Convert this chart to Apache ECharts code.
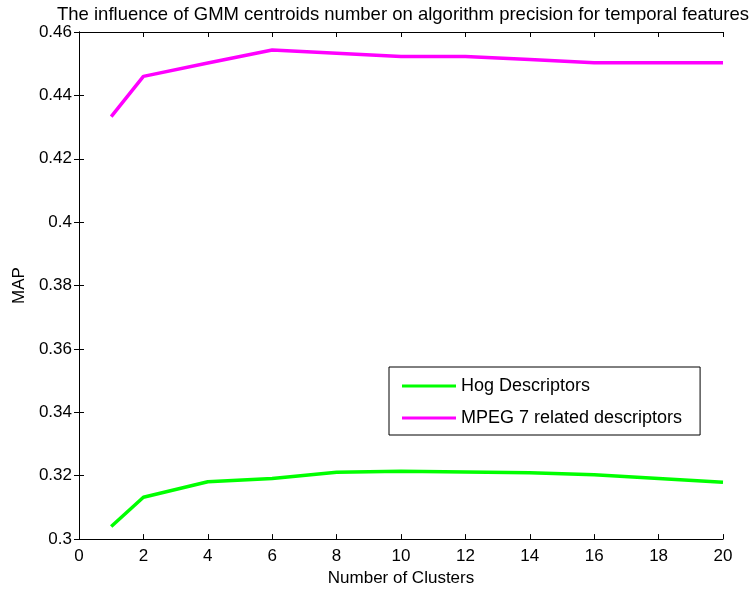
<!DOCTYPE html>
<html>
<head>
<meta charset="utf-8">
<script src="https://cdn.jsdelivr.net/npm/echarts@6/dist/echarts.min.js"></script>
<style>
  html, body { margin: 0; padding: 0; background: #fff; }
  #main { width: 750px; height: 592px; }
</style>
</head>
<body>
<div id="main"></div>
<script>
var clusters = [1, 2, 4, 6, 8, 10, 12, 14, 16, 18, 20];
var hogValues = [0.304, 0.3132, 0.3181, 0.3191, 0.3211, 0.3214, 0.3212, 0.3209, 0.3203, 0.3191, 0.3179];
var mpegValues = [0.4333, 0.446, 0.4502, 0.4543, 0.4533, 0.4523, 0.4523, 0.4513, 0.4503, 0.4503, 0.4503];

function pairs(xs, ys) {
  var out = [];
  for (var i = 0; i < xs.length; i++) out.push([xs[i], ys[i]]);
  return out;
}

var font = 'Liberation Sans, Arial, sans-serif';
var chart = echarts.init(document.getElementById('main'));

var tickStyle = { show: true, inside: true, length: 5, lineStyle: { color: '#000' } };
var lineAxis = { show: true, lineStyle: { color: '#000', width: 1 } };

var opt = {
  backgroundColor: '#fff',
  animation: false,
  title: {
    text: 'The influence of GMM centroids number on algorithm precision for temporal features',
    left: 398,
    textAlign: 'center',
    top: 0,
    textStyle: { fontFamily: font, fontSize: 18.5, fontWeight: 'normal', color: '#000' }
  },
  grid: { left: 79, right: 27, top: 32, bottom: 52 },
  legend: {
    orient: 'vertical',
    left: 389,
    top: 367,
    padding: [10, 18, 8, 13],
    itemGap: 14,
    itemWidth: 54,
    itemHeight: 3,
    icon: 'rect',
    backgroundColor: '#fff',
    borderColor: '#000',
    borderWidth: 1,
    textStyle: { fontFamily: font, fontSize: 18, color: '#000' },
    data: ['Hog Descriptors', 'MPEG 7 related descriptors']
  },
  xAxis: [{
    type: 'value',
    min: 0, max: 20, interval: 2,
    name: 'Number of Clusters',
    nameLocation: 'middle',
    nameGap: 29,
    nameTextStyle: { fontFamily: font, fontSize: 17, color: '#000' },
    axisLine: lineAxis,
    axisTick: tickStyle,
    splitLine: { show: false },
    axisLabel: { fontFamily: font, fontSize: 17, color: '#000', margin: 9 }
  }, {
    type: 'value', position: 'top',
    min: 0, max: 20, interval: 2,
    axisLine: lineAxis,
    axisTick: tickStyle,
    splitLine: { show: false },
    axisLabel: { show: false }
  }],
  yAxis: [{
    type: 'value',
    min: 0.3, max: 0.46, interval: 0.02,
    name: 'MAP',
    nameLocation: 'middle',
    nameGap: 51,
    nameTextStyle: { fontFamily: font, fontSize: 17, color: '#000' },
    axisLine: lineAxis,
    axisTick: tickStyle,
    splitLine: { show: false },
    axisLabel: {
      fontFamily: font, fontSize: 17, color: '#000', margin: 7,
      formatter: function (v) { return String(Math.round(v * 100) / 100); }
    }
  }, {
    type: 'value', position: 'right',
    min: 0.3, max: 0.46, interval: 0.02,
    axisLine: lineAxis,
    axisTick: tickStyle,
    splitLine: { show: false },
    axisLabel: { show: false }
  }],
  series: [{
    name: 'Hog Descriptors',
    type: 'line',
    data: pairs(clusters, hogValues),
    symbol: 'none',
    color: '#00ff00',
    lineStyle: { color: '#00ff00', width: 3.5 }
  }, {
    name: 'MPEG 7 related descriptors',
    type: 'line',
    data: pairs(clusters, mpegValues),
    symbol: 'none',
    color: '#ff00ff',
    lineStyle: { color: '#ff00ff', width: 3.5 }
  }]
};

chart.setOption(opt);
</script>
</body>
</html>
